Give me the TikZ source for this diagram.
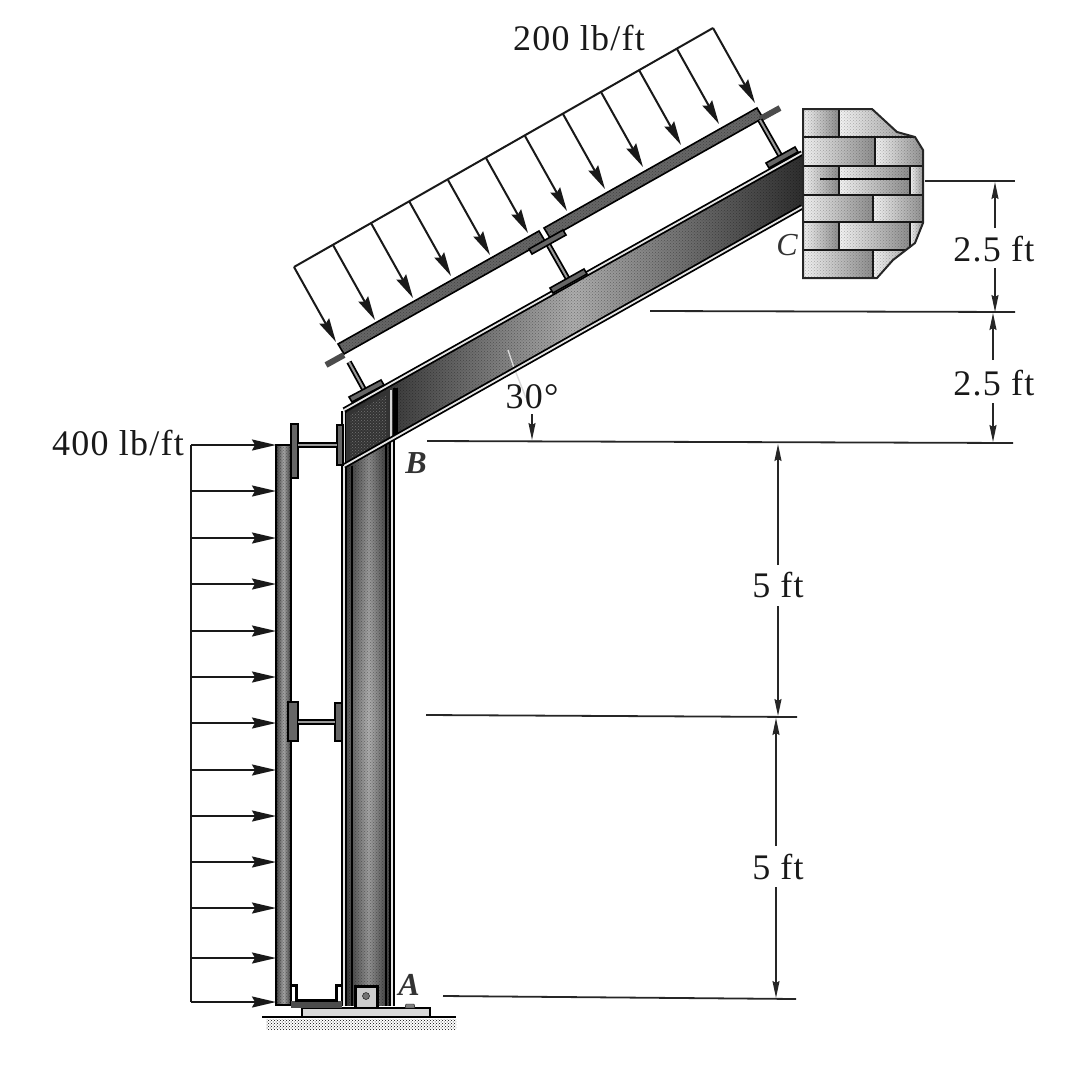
\documentclass[tikz,border=0pt]{standalone}
\usepackage{fontspec}
\setmainfont[LetterSpace=3.5]{Liberation Serif}
\usetikzlibrary{arrows.meta,patterns}
\tikzset{
	loadarrow/.style={line width=2pt, draw=black!90, -{Stealth[length=24pt,width=11pt,inset=3pt]}},
	dimline/.style={line width=1.7pt, draw=black!85, -{Stealth[length=17pt,width=7pt,inset=2pt]}},
	extline/.style={line width=1.8pt, draw=black!85},
	steelband/.style={line width=1.8pt, double=black!10, double distance=1.8pt, draw=black},
	strutband/.style={line width=1.8pt, double=black!40, double distance=2pt, draw=black},
	plate/.style={line width=1.6pt, draw=black, fill=black!60},
	brick/.style={line width=2.6pt, draw=black!90, left color=black!5, right color=black!45},
	texture/.style={pattern=crosshatch dots, pattern color=black, opacity=0.35},
	dimtext/.style={font=\fontsize{36}{36}\selectfont, text=black!90, inner sep=1pt},
	pointtext/.style={font=\fontsize{32}{32}\selectfont\itshape\bfseries, text=black!80, inner sep=1pt}
}

\begin{document}
\begin{tikzpicture}[x=1pt, y=-1pt]
	%%%%% START %%%%%
	\useasboundingbox (0, 0) rectangle (1078, 1082);

	% ground and base plate
	\fill[pattern=crosshatch dots, pattern color=black] (266, 1019) rectangle (456, 1029);
	\draw[line width=2pt] (262, 1017) -- (456, 1017);
	\draw[line width=1.6pt, fill=black!15] (302, 1008) rectangle (430, 1017);
	\draw[fill=black!50] (405, 1008) -- (406, 1004) -- (414, 1004) -- (415, 1008) -- cycle;

	% rafter
	\shade[left color=black!88, right color=black!82, middle color=black!32] (345, 408) -- (803, 152) -- (803, 206) -- (393, 438) -- (345, 466) -- cycle;
	\fill[texture] (345, 408) -- (803, 152) -- (803, 206) -- (393, 438) -- (345, 466) -- cycle;
	\draw[line width=1.4pt, color=black!15] (508, 350) -- (513, 365) -- (526, 398);

	% column
	\shade[top color=black!80, bottom color=black!75, middle color=black!40] (346, 436) rectangle (391, 1005);
	\shade[left color=black!85, right color=black!85, middle color=black!25, opacity=0.6] (346, 436) rectangle (391, 1005);
	\fill[texture] (346, 436) rectangle (391, 1005);
	\draw[steelband] (344, 411) -- (344, 1006);
	\draw[steelband] (392, 438) -- (392, 1006);
	\draw[line width=1.4pt] (352, 466) -- (352, 1006);
	\draw[line width=1.4pt] (386, 440) -- (386, 1006);

	% knee joint
	\fill[black!80] (346, 413) -- (390, 389) -- (390, 438) -- (346, 464) -- cycle;
	\fill[pattern=crosshatch dots, pattern color=black!55] (350, 415) -- (386, 395) -- (386, 438) -- (350, 460) -- cycle;
	\fill[black] (393, 388) rectangle (398, 437);
	\draw[line width=1.4pt, color=black!15] (391, 390) -- (391, 437);
	\draw[steelband] (344, 410) -- (802, 153);
	\draw[steelband] (344, 466) -- (802, 207);

	% foot of column
	\draw[line width=3pt, fill=black!20] (355, 1007) -- (355, 986) -- (377, 986) -- (377, 1007);
	\draw[fill=black!55] (366, 996) circle (3.5);

	% upper purlin
	\draw[plate] (338, 344) -- (539, 231) -- (545, 241) -- (344, 354) -- cycle;
	\draw[plate] (544, 228) -- (757, 108) -- (763, 118) -- (550, 238) -- cycle;
	\fill[texture] (338, 344) -- (539, 231) -- (545, 241) -- (344, 354) -- cycle;
	\fill[texture] (544, 228) -- (757, 108) -- (763, 118) -- (550, 238) -- cycle;
	\draw[line width=6pt, color=black!70] (326, 365) -- (344, 355);
	\draw[line width=6pt, color=black!70] (760, 119) -- (780, 108);

	% struts to rafter
	\draw[strutband] (349, 362) -- (366, 393);
	\draw[strutband] (548, 244) -- (569, 281);
	\draw[strutband] (760, 120) -- (781, 157);
	\draw[plate] (349, 397) -- (381, 380) -- (384, 385) -- (352, 402) -- cycle;
	\draw[plate] (529, 249) -- (563, 230) -- (566, 235) -- (532, 254) -- cycle;
	\draw[plate] (550, 288) -- (584, 269) -- (587, 274) -- (553, 293) -- cycle;
	\draw[plate] (766, 163) -- (795, 147) -- (798, 152) -- (769, 168) -- cycle;

	% wall at C
	\begin{scope}
		\clip (803, 109) -- (872, 109) -- (897, 132) -- (915, 137) -- (923, 150) -- (923, 223) -- (915, 243) -- (893, 260) -- (877, 278) -- (803, 278) -- cycle;
		\draw[brick] (803, 109) rectangle (839, 137);
		\draw[brick] (839, 109) rectangle (925, 137);
		\draw[brick] (803, 137) rectangle (875, 166);
		\draw[brick] (875, 137) rectangle (925, 166);
		\draw[brick] (803, 166) rectangle (839, 195);
		\draw[brick] (839, 166) rectangle (910, 195);
		\draw[brick] (910, 166) rectangle (925, 195);
		\draw[brick] (803, 195) rectangle (873, 222);
		\draw[brick] (873, 195) rectangle (925, 222);
		\draw[brick] (803, 222) rectangle (839, 250);
		\draw[brick] (839, 222) rectangle (910, 250);
		\draw[brick] (910, 222) rectangle (925, 250);
		\draw[brick] (803, 250) rectangle (873, 278);
		\draw[brick] (873, 250) rectangle (925, 278);
		\fill[pattern=crosshatch dots, pattern color=black, opacity=0.25] (803, 109) rectangle (925, 278);
	\end{scope}
	\draw[line width=2pt, color=black!85] (803, 109) -- (872, 109) -- (897, 132) -- (915, 137) -- (923, 150) -- (923, 223) -- (915, 243) -- (893, 260) -- (877, 278) -- (803, 278) -- cycle;
	\draw[line width=2pt] (820, 179) -- (910, 179);

	% side channel
	\shade[left color=black!75, right color=black!75, middle color=black!35] (276, 445) rectangle (291, 1005);
	\fill[texture] (276, 445) rectangle (291, 1005);
	\draw[line width=2pt] (276, 445) rectangle (291, 1005);
	\fill[black!70] (291, 1001) rectangle (342, 1008);
	\draw[line width=3pt] (291, 985) -- (296, 985) -- (296, 1000) -- (336, 1000) -- (336, 985) -- (342, 985);

	% spacers
	\draw[plate] (291, 424) rectangle (298, 478);
	\draw[plate] (337, 425) rectangle (343, 465);
	\draw[strutband] (298, 445) -- (337, 445);
	\draw[plate] (288, 702) rectangle (298, 741);
	\draw[plate] (335, 703) rectangle (342, 741);
	\draw[strutband] (298, 722) -- (335, 722);

	% 200 lb/ft load
	\draw[line width=2pt, color=black!90] (294, 267) -- (713, 28);
	\draw[loadarrow] (294, 267) -- (336, 342);
	\draw[loadarrow] (333, 245) -- (375, 320);
	\draw[loadarrow] (371, 223) -- (413, 298);
	\draw[loadarrow] (409, 201) -- (451, 276);
	\draw[loadarrow] (448, 180) -- (490, 255);
	\draw[loadarrow] (486, 158) -- (528, 233);
	\draw[loadarrow] (525, 136) -- (567, 211);
	\draw[loadarrow] (563, 114) -- (605, 189);
	\draw[loadarrow] (601, 92) -- (643, 167);
	\draw[loadarrow] (639, 70) -- (681, 145);
	\draw[loadarrow] (677, 49) -- (719, 124);
	\draw[loadarrow] (713, 28) -- (755, 103);

	% 400 lb/ft load
	\draw[line width=2pt, color=black!90] (191, 445) -- (191, 1002);
	\draw[loadarrow] (191, 445) -- (276, 445);
	\draw[loadarrow] (191, 491) -- (276, 491);
	\draw[loadarrow] (191, 538) -- (276, 538);
	\draw[loadarrow] (191, 584) -- (276, 584);
	\draw[loadarrow] (191, 631) -- (276, 631);
	\draw[loadarrow] (191, 677) -- (276, 677);
	\draw[loadarrow] (191, 723) -- (276, 723);
	\draw[loadarrow] (191, 770) -- (276, 770);
	\draw[loadarrow] (191, 816) -- (276, 816);
	\draw[loadarrow] (191, 862) -- (276, 862);
	\draw[loadarrow] (191, 908) -- (276, 908);
	\draw[loadarrow] (191, 958) -- (276, 958);
	\draw[loadarrow] (191, 1002) -- (276, 1002);

	% extension lines
	\draw[extline] (925, 181) -- (1015, 181);
	\draw[extline] (650, 311) -- (1015, 312);
	\draw[extline] (427, 441) -- (1013, 443);
	\draw[extline] (426, 715) -- (797, 717);
	\draw[extline] (443, 996) -- (796, 999);

	% dimensions
	\draw[dimline] (995, 228) -- (995, 182);
	\draw[dimline] (995, 268) -- (995, 312);
	\draw[dimline] (993, 360) -- (993, 313);
	\draw[dimline] (993, 403) -- (993, 442);
	\draw[dimline] (778, 565) -- (778, 444);
	\draw[dimline] (778, 606) -- (778, 716);
	\draw[dimline] (776, 846) -- (776, 718);
	\draw[dimline] (776, 887) -- (776, 998);
	\draw[dimline] (532, 414) -- (532, 440);

	% labels
	\node[dimtext] (loadtop) at (579, 38) {200 lb/ft};
	\node[dimtext] (loadleft) at (118, 443) {400 lb/ft};
	\node[dimtext] (angle) at (532, 397) {30°};
	\node[dimtext] (dimca) at (994, 249) {2.5 ft};
	\node[dimtext] (dimcb) at (994, 383) {2.5 ft};
	\node[dimtext] (dimba) at (778, 585) {5 ft};
	\node[dimtext] (dimab) at (778, 867) {5 ft};
	\node[pointtext] (pointa) at (409, 985) {A};
	\node[pointtext] (pointb) at (416, 463) {B};
	\node[pointtext, font=\fontsize{32}{32}\selectfont\itshape] (pointc) at (787, 245) {C};
	%%%%% END %%%%%
\end{tikzpicture}
\end{document}
